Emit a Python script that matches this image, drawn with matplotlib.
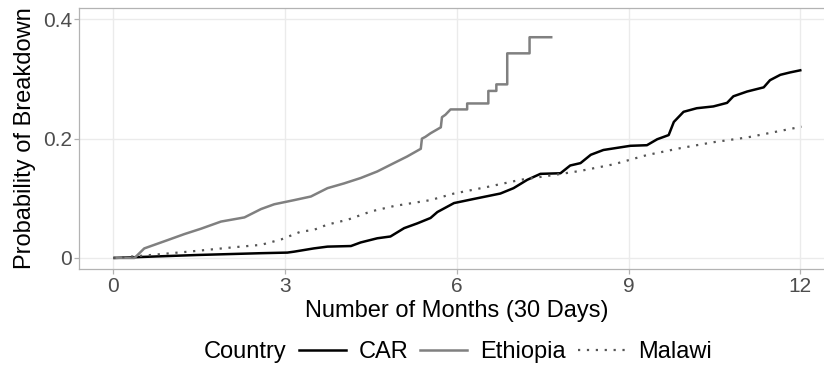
import matplotlib
matplotlib.use("Agg")
import matplotlib.pyplot as plt
from matplotlib.lines import Line2D

plt.rcParams['font.family'] = ['Liberation Sans', 'DejaVu Sans']

# --- DATA (months vs cumulative probability) ---
car_months = [0, 0.3, 1.47, 2.58, 3.04, 3.16, 3.5, 3.74, 4.15, 4.32, 4.61, 4.84, 5.08,
              5.31, 5.54, 5.66, 5.95, 6.30, 6.76, 6.99, 7.23, 7.46, 7.81, 7.98, 8.16,
              8.34, 8.56, 9.03, 9.32, 9.50, 9.70, 9.79, 9.96, 10.19, 10.48, 10.72,
              10.83, 11.07, 11.36, 11.47, 11.65, 11.82, 12.02]
car_prob = [0, 0.001, 0.005, 0.008, 0.009, 0.0106, 0.016, 0.019, 0.020, 0.026, 0.033,
            0.036, 0.050, 0.058, 0.067, 0.077, 0.092, 0.099, 0.108, 0.117, 0.131, 0.141,
            0.142, 0.155, 0.159, 0.173, 0.181, 0.188, 0.189, 0.199, 0.206, 0.228, 0.245,
            0.251, 0.254, 0.260, 0.271, 0.279, 0.286, 0.298, 0.307, 0.311, 0.315]

eth_months = [0, 0.37, 0.54, 0.95, 1.24, 1.53, 1.88, 2.29, 2.58, 2.81, 3.16, 3.45,
              3.74, 4.03, 4.32, 4.61, 4.90, 5.13, 5.37, 5.39, 5.45, 5.54, 5.72, 5.74,
              5.80, 5.89, 6.18, 6.18, 6.55, 6.55, 6.69, 6.69, 6.88, 6.88, 7.27, 7.27, 7.67]
eth_prob = [0, 0, 0.016, 0.030, 0.040, 0.049, 0.061, 0.068, 0.082, 0.090, 0.097, 0.103,
            0.117, 0.125, 0.134, 0.145, 0.159, 0.170, 0.183, 0.200, 0.203, 0.209, 0.219,
            0.236, 0.240, 0.249, 0.249, 0.259, 0.259, 0.280, 0.280, 0.291, 0.291, 0.343,
            0.343, 0.370, 0.370]

mal_months = [0, 0.54, 1.36, 2.11, 2.58, 2.93, 3.27, 3.5, 3.74, 4.09, 4.5, 4.90, 5.54,
              5.95, 6.53, 7.11, 7.69, 8.16, 8.74, 9.32, 9.90, 10.48, 11.07, 11.65, 12.02]
mal_prob = [0, 0.004, 0.011, 0.018, 0.022, 0.031, 0.044, 0.047, 0.056, 0.064, 0.078,
            0.087, 0.097, 0.108, 0.119, 0.131, 0.139, 0.146, 0.157, 0.1725, 0.184, 0.194,
            0.202, 0.213, 0.220]

x_ticks = [0, 3, 6, 9, 12]
y_ticks = [0, 0.2, 0.4]
y_tick_labels = ['0', '0.2', '0.4']
countries = ['CAR', 'Ethiopia', 'Malawi']

# --- STYLE ---
styles = {
    'CAR': dict(color='black', lw=1.8, ls='-'),
    'Ethiopia': dict(color='#808080', lw=1.8, ls='-'),
    'Malawi': dict(color='#555555', lw=1.6, ls=(0, (1, 3))),
}
W, H = 824, 366
fig = plt.figure(figsize=(W / 100, H / 100), dpi=100)
# panel runs past the right edge, as in the reference
ax = fig.add_axes([79 / W, 1 - 269.3 / H, 755.7 / W, 261.3 / H])

series = {'CAR': (car_months, car_prob),
          'Ethiopia': (eth_months, eth_prob),
          'Malawi': (mal_months, mal_prob)}
for name in countries:
    xs, ys = series[name]
    st = styles[name]
    ax.plot(xs, ys, color=st['color'], lw=st['lw'], ls=st['ls'],
            dash_capstyle='butt', solid_capstyle='butt', zorder=3)

ax.set_xlim(-0.6, 12.6)
ax.set_ylim(-0.019, 0.419)
ax.set_xticks(x_ticks)
ax.set_yticks(y_ticks)
ax.set_yticklabels(y_tick_labels)
ax.grid(True, color='#ebebeb', lw=1.0, zorder=0)
ax.set_axisbelow(True)
for sp in ax.spines.values():
    sp.set_color('#b3b3b3')
    sp.set_linewidth(0.9)
ax.tick_params(axis='both', colors='#b3b3b3', labelcolor='#4d4d4d', labelsize=15,
               length=3.5, width=0.9)
ax.tick_params(axis='y', pad=1.5)
ax.tick_params(axis='x', pad=2)

fig.text(25 / W, 1 - 138.6 / H, 'Probability of Breakdown', rotation=90,
         ha='center', va='center', fontsize=17)
fig.text(456.5 / W, 1 - 311 / H, 'Number of Months (30 Days)',
         ha='center', va='center', fontsize=17)

# legend along the bottom, title on the left
fig.text(203.5 / W, 1 - 352 / H, 'Country', ha='left', va='center', fontsize=17)
handles = [Line2D([], [], color=styles[c]['color'], lw=styles[c]['lw'],
                  ls=styles[c]['ls'], dash_capstyle='butt') for c in countries]
fig.legend(handles, countries, loc='center left', bbox_to_anchor=(298.5 / W, 1 - 352 / H),
           ncol=3, frameon=False, fontsize=17, borderpad=0, borderaxespad=0,
           handlelength=2.0, handletextpad=0.55, columnspacing=0.5)

fig.savefig('out.png', dpi=100)
